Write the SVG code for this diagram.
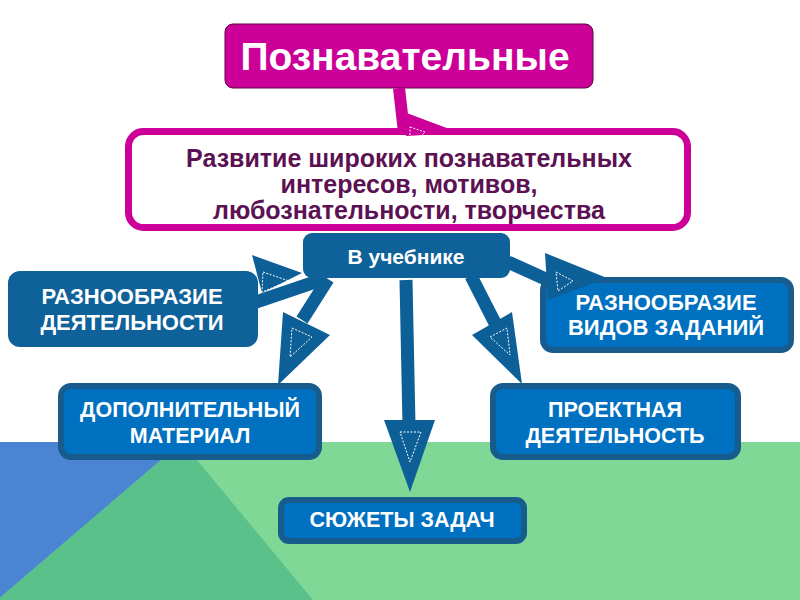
<svg xmlns="http://www.w3.org/2000/svg" width="800" height="600" viewBox="0 0 800 600">
<style>
.bg1{fill:#80d897}.bg2{fill:#5bc18a}.bg3{fill:#4a84d3}
.shaft{stroke:#0d5f97;stroke-width:13;stroke-linecap:butt;fill:none}
.head{fill:#0d5f97}
.mshaft{stroke:#cc0099;stroke-width:12;fill:none}
.mhead{fill:#cc0099}
.dash{fill:none;stroke:#ffffff;stroke-width:1;stroke-dasharray:2 1.5}
.dark{fill:#0e6199}
.bright{fill:#0070c0;stroke:#175c8c;stroke-width:6}
.wt{fill:#ffffff;font-family:"Liberation Sans",Arial,sans-serif;font-weight:bold;text-anchor:middle}
.pt{fill:#5c1152;font-family:"Liberation Sans",Arial,sans-serif;font-weight:bold;text-anchor:middle}
</style>
<rect x="0" y="0" width="800" height="600" fill="#ffffff"/>
<rect class="bg1" x="0" y="442" width="800" height="158"/>
<polygon class="bg3" points="0,442 182,442 0,598"/>
<polygon class="bg2" points="182,442 -3,600 313,600"/>

<g id="node-top">
<rect x="225" y="24" width="368" height="64" rx="8" fill="#cc0099" stroke="#5a0045" stroke-width="1"/>
<text class="wt" x="405" y="70" font-size="39">Познавательные</text>
</g>

<g id="connectors">
<line class="mshaft" x1="399" y1="88" x2="406" y2="150"/>
<line class="shaft" x1="324" y1="279" x2="256" y2="302"/>
<polygon class="head" points="252,255 262,293 302,273"/>
<polygon class="dash" points="263,272 289,281 262,292"/>

<line class="shaft" x1="328" y1="279" x2="302" y2="320"/>
<polygon class="head" points="283,312 330,335 278,385"/>
<polygon class="dash" points="292,328 312,337 290,357"/>

<line class="shaft" x1="406" y1="280" x2="409" y2="425"/>
<polygon class="head" points="384,420 435,420 410,492"/>
<polygon class="dash" points="400,432 421,432 410,462"/>

<line class="shaft" x1="471" y1="276" x2="496" y2="325"/>
<polygon class="head" points="472,335 512,312 522,384"/>
<polygon class="dash" points="490,337 507,328 510,355"/>

<line class="shaft" x1="508" y1="262" x2="550" y2="281"/>
</g>

<g id="node-goal">
<rect x="128.5" y="131.5" width="559" height="96" rx="15" fill="#ffffff" stroke="#cc0099" stroke-width="7"/>
<polygon class="mhead" points="404,112 460,133 406,136"/>
<polygon class="dash" points="410,127 425,132 410,147"/>
<text class="pt" font-size="25"><tspan x="409" y="167">Развитие широких познавательных</tspan><tspan x="409" y="193">интересов, мотивов,</tspan><tspan x="409" y="219">любознательности, творчества</tspan></text>
</g>

<g id="node-textbook">
<rect class="dark" x="303" y="233" width="207" height="45" rx="9"/>
<text class="wt" x="406" y="264" font-size="21">В учебнике</text>
</g>

<g id="node-variety-activity">
<rect class="dark" x="8" y="271" width="250" height="76" rx="12"/>
<text class="wt" font-size="22"><tspan x="132" y="304">РАЗНООБРАЗИЕ</tspan><tspan x="132" y="330">ДЕЯТЕЛЬНОСТИ</tspan></text>
</g>

<g id="node-variety-tasks">
<rect class="bright" x="543" y="280" width="248" height="70" rx="10"/>
<polygon class="head" points="545,253 607,278 548,300"/>
<polygon class="dash" points="556,272 573,281 558,291"/>
<text class="wt" font-size="22"><tspan x="666" y="310">РАЗНООБРАЗИЕ</tspan><tspan x="666" y="335">ВИДОВ ЗАДАНИЙ</tspan></text>
</g>

<g id="node-extra">
<rect class="bright" x="61" y="386" width="258" height="71" rx="10"/>
<text class="wt" font-size="21.5"><tspan x="190" y="417">ДОПОЛНИТЕЛЬНЫЙ</tspan><tspan x="190" y="443">МАТЕРИАЛ</tspan></text>
</g>

<g id="node-project">
<rect class="bright" x="493" y="386" width="245" height="71" rx="10"/>
<text class="wt" font-size="21.5"><tspan x="615" y="417">ПРОЕКТНАЯ</tspan><tspan x="615" y="443">ДЕЯТЕЛЬНОСТЬ</tspan></text>
</g>

<g id="node-plots">
<rect class="bright" x="281" y="500" width="243" height="41" rx="8"/>
<text class="wt" x="402" y="527" font-size="21.5">СЮЖЕТЫ ЗАДАЧ</text>
</g>
</svg>
